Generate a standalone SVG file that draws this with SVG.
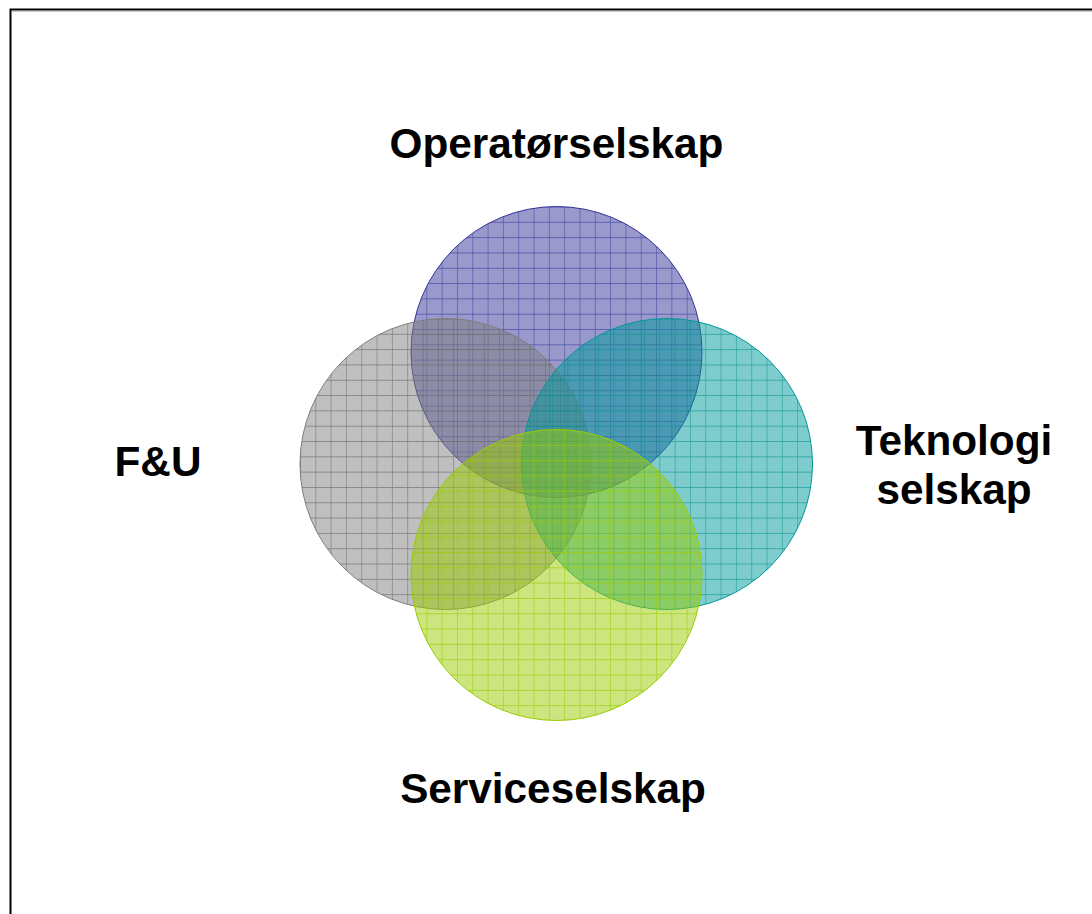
<svg xmlns="http://www.w3.org/2000/svg" width="1092" height="914" viewBox="0 0 1092 914">
<style>
  .lbl { font-family: "Liberation Sans", Arial, sans-serif; font-weight: bold; font-size: 42.3px; fill: #000; text-anchor: middle; }
  .base { fill-opacity: 0.5; stroke-width: 1; }
  .grid { stroke: none; }
</style>
<defs>
  <pattern id="gPurple" patternUnits="objectBoundingBox" width="0.05263" height="0.05263">
    <path d="M0 0H20M0 0V20" stroke="#333399" stroke-opacity="0.75" stroke-width="1.2" fill="none"/>
  </pattern>
  <pattern id="gGray" patternUnits="objectBoundingBox" width="0.05263" height="0.05263">
    <path d="M0 0H20M0 0V20" stroke="#606060" stroke-opacity="0.75" stroke-width="1.2" fill="none"/>
  </pattern>
  <pattern id="gTeal" patternUnits="objectBoundingBox" width="0.05263" height="0.05263">
    <path d="M0 0H20M0 0V20" stroke="#008f8f" stroke-opacity="0.75" stroke-width="1.2" fill="none"/>
  </pattern>
  <pattern id="gGreen" patternUnits="objectBoundingBox" width="0.05263" height="0.05263">
    <path d="M0 0H20M0 0V20" stroke="#99cc00" stroke-opacity="0.85" stroke-width="1.2" fill="none"/>
  </pattern>
</defs>
<rect x="0" y="0" width="1092" height="914" fill="#ffffff"/>
<rect x="10.5" y="9.5" width="1200" height="1000" fill="none" stroke="#000" stroke-width="2"/>
<line x1="12" y1="11.5" x2="1092" y2="11.5" stroke="#c8c8c8" stroke-width="1"/>
<g id="circle-operator">
  <circle class="base" cx="556.5" cy="352" r="145.5" fill="#333399" stroke="#333399"/>
  <circle class="grid" cx="556.5" cy="352" r="145.5" fill="url(#gPurple)"/>
</g>
<g id="circle-fu">
  <circle class="base" cx="445.5" cy="464" r="145.5" fill="#808080" stroke="#808080"/>
  <circle class="grid" cx="445.5" cy="464" r="145.5" fill="url(#gGray)"/>
</g>
<g id="circle-teknologi">
  <circle class="base" cx="667" cy="464" r="145.5" fill="#009999" stroke="#009999"/>
  <circle class="grid" cx="667" cy="464" r="145.5" fill="url(#gTeal)"/>
</g>
<g id="circle-service">
  <circle class="base" cx="556.5" cy="575" r="145.5" fill="#99cc00" stroke="#99cc00"/>
  <circle class="grid" cx="556.5" cy="575" r="145.5" fill="url(#gGreen)"/>
</g>
<g id="label-operator"><text class="lbl" x="556.5" y="158">Operatørselskap</text></g>
<g id="label-fu"><text class="lbl" x="158" y="476">F&amp;U</text></g>
<g id="label-teknologi"><text class="lbl" x="954" y="455">Teknologi</text><text class="lbl" x="954" y="504">selskap</text></g>
<g id="label-service"><text class="lbl" x="553" y="803">Serviceselskap</text></g>
<g id="connectors"></g>
</svg>
